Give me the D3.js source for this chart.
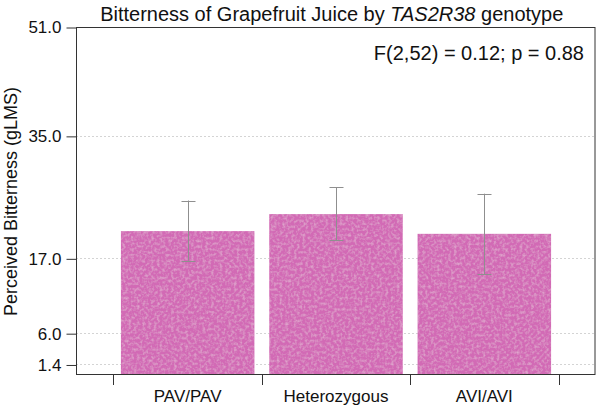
<!DOCTYPE html>
<html>
<head>
<meta charset="utf-8">
<script src="https://cdn.jsdelivr.net/npm/d3@7/dist/d3.min.js"></script>
<style>
	body { margin: 0; background: #fff; }
	text { font-family: "Liberation Sans", Arial, Helvetica, sans-serif; fill: #111; }
</style>
</head>
<body>
<div id="chart"></div>
<script>
var genotypes = ['PAV/PAV', 'Heterozygous', 'AVI/AVI'];
var meanBitterness = [21.0, 23.5, 20.6];
var errLow = [16.65, 19.65, 14.7];
var errHigh = [25.5, 27.45, 26.5];
var yTicks = [1.4, 6.0, 17.0, 35.0, 51.0];
var statText = 'F(2,52) = 0.12; p = 0.88';

var width = 600,
	height = 409,
	plot = { left: 76.5, right: 595, top: 27, bottom: 374 };

var svg = d3.select('#chart').append('svg')
	.attr('width', width)
	.attr('height', height);

// mottled texture for the bars
var filter = svg.append('defs').append('filter')
	.attr('id', 'grain')
	.attr('x', 0).attr('y', 0).attr('width', 1).attr('height', 1);
filter.append('feTurbulence')
	.attr('type', 'fractalNoise')
	.attr('baseFrequency', 0.35)
	.attr('numOctaves', 2)
	.attr('seed', 7)
	.attr('result', 'noise');
filter.append('feColorMatrix')
	.attr('in', 'noise')
	.attr('type', 'matrix')
	.attr('values', '0 0 0 0 1  0 0 0 0 1  0 0 0 0 1  0 0 0 -0.55 0.32')
	.attr('result', 'spots');
filter.append('feComposite')
	.attr('in', 'spots')
	.attr('in2', 'SourceGraphic')
	.attr('operator', 'in')
	.attr('result', 'spotsIn');
var merge = filter.append('feMerge');
merge.append('feMergeNode').attr('in', 'SourceGraphic');
merge.append('feMergeNode').attr('in', 'spotsIn');

var x = d3.scaleBand()
	.domain(genotypes)
	.range([113.5, 558.5])
	.paddingInner(0.1)
	.paddingOuter(0.05);

var y = d3.scaleLinear()
	.domain([0, 51])
	.range([plot.bottom, plot.top]);

// dotted grid lines
svg.append('g')
	.selectAll('line')
	.data(yTicks)
	.enter().append('line')
	.attr('x1', plot.left)
	.attr('x2', plot.right)
	.attr('y1', function (d) { return Math.round(y(d)) + 0.5; })
	.attr('y2', function (d) { return Math.round(y(d)) + 0.5; })
	.attr('stroke', '#a8a8a8')
	.attr('stroke-width', 1)
	.attr('stroke-dasharray', '1,3');

// bars
var data = genotypes.map(function (g, i) {
	return { name: g, value: meanBitterness[i], lo: errLow[i], hi: errHigh[i] };
});

svg.append('g')
	.selectAll('rect')
	.data(data)
	.enter().append('rect')
	.attr('x', function (d) { return x(d.name); })
	.attr('width', x.bandwidth())
	.attr('y', function (d) { return y(d.value); })
	.attr('height', function (d) { return y(0) - y(d.value); })
	.attr('fill', '#d26ab5')
	.attr('filter', 'url(#grain)');

// error bars
var err = svg.append('g')
	.attr('stroke', '#8f8f8f')
	.attr('stroke-width', 1)
	.selectAll('g')
	.data(data)
	.enter().append('g')
	.attr('transform', function (d) { return 'translate(' + (Math.round(x(d.name) + x.bandwidth() / 2) + 0.5) + ',0)'; });

err.append('line')
	.attr('y1', function (d) { return y(d.lo); })
	.attr('y2', function (d) { return y(d.hi); });
err.append('line')
	.attr('x1', -7).attr('x2', 7)
	.attr('y1', function (d) { return Math.round(y(d.hi)) + 0.5; })
	.attr('y2', function (d) { return Math.round(y(d.hi)) + 0.5; });
err.append('line')
	.attr('x1', -7).attr('x2', 7)
	.attr('y1', function (d) { return Math.round(y(d.lo)) + 0.5; })
	.attr('y2', function (d) { return Math.round(y(d.lo)) + 0.5; });

// box
svg.append('rect')
	.attr('x', plot.left)
	.attr('y', plot.top + 0.5)
	.attr('width', plot.right - plot.left)
	.attr('height', plot.bottom - plot.top)
	.attr('fill', 'none')
	.attr('stroke', '#333')
	.attr('stroke-width', 1);

// y axis
var yAxis = d3.axisLeft(y)
	.tickValues(yTicks)
	.tickFormat(d3.format('.1f'))
	.tickSize(10)
	.tickPadding(5);

var yG = svg.append('g')
	.attr('transform', 'translate(' + plot.left + ',0.5)')
	.call(yAxis);
yG.select('.domain').remove();
yG.selectAll('line').attr('stroke', '#333');
yG.selectAll('text')
	.attr('font-size', 17)
	.attr('font-family', '"Liberation Sans", Arial, sans-serif')
	.attr('fill', '#111');

// x axis: ticks between groups, labels under bars
var step = x.step();
var bounds = genotypes.map(function (g) { return x(g) - step * x.paddingInner() / 2; });
bounds.push(x(genotypes[genotypes.length - 1]) + x.bandwidth() + step * x.paddingInner() / 2);

svg.append('g')
	.selectAll('line')
	.data(bounds)
	.enter().append('line')
	.attr('x1', function (d) { return Math.round(d) + 0.5; })
	.attr('x2', function (d) { return Math.round(d) + 0.5; })
	.attr('y1', plot.bottom)
	.attr('y2', plot.bottom + 11)
	.attr('stroke', '#333');

svg.append('g')
	.selectAll('text')
	.data(genotypes)
	.enter().append('text')
	.attr('x', function (d) { return x(d) + x.bandwidth() / 2; })
	.attr('y', 402)
	.attr('text-anchor', 'middle')
	.attr('font-size', 17)
	.text(function (d) { return d; });

// y label
svg.append('text')
	.attr('transform', 'translate(17,' + ((plot.top + plot.bottom) / 2 + 1) + ') rotate(-90)')
	.attr('text-anchor', 'middle')
	.attr('font-size', 18)
	.text('Perceived Bitterness (gLMS)');

// title
var title = svg.append('text')
	.attr('x', (plot.left + plot.right) / 2 - 4)
	.attr('y', 21)
	.attr('text-anchor', 'middle')
	.attr('font-size', 20);
title.append('tspan').text('Bitterness of Grapefruit Juice by ');
title.append('tspan').attr('font-style', 'italic').text('TAS2R38');
title.append('tspan').text(' genotype');

// stats annotation
svg.append('text')
	.attr('x', 584)
	.attr('y', 60)
	.attr('text-anchor', 'end')
	.attr('font-size', 20)
	.text(statText);
</script>
</body>
</html>
